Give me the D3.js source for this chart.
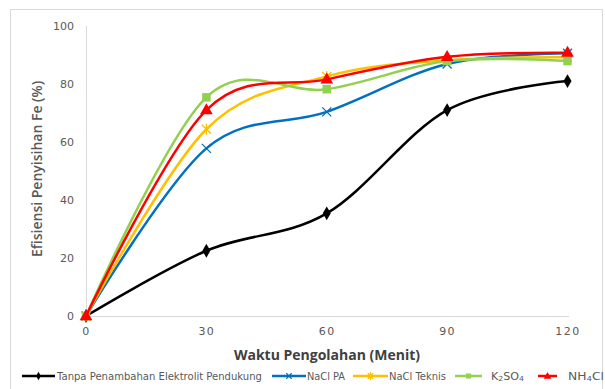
<!DOCTYPE html>
<html>
<head>
<meta charset="utf-8">
<script src="https://cdn.jsdelivr.net/npm/d3@7"></script>
<style>
  html, body { margin: 0; padding: 0; background: #fff; }
  svg { display: block; }
</style>
</head>
<body>
<svg id="chart" width="605" height="389"></svg>
<script>
// Processing time (minutes)
const times = [0, 30, 60, 90, 120];
const xTickLabels = ["0", "30", "60", "90", "120"];
const yTickValues = [0, 20, 40, 60, 80, 100];

// Fe removal efficiency (%) per supporting electrolyte
const tanpa   = [0, 22.5, 35.4, 71.0, 81.0];
const naclPA  = [0, 57.8, 70.4, 86.9, 90.6];
const naclTek = [0, 64.4, 82.6, 88.2, 89.2];
const k2so4   = [0, 75.4, 78.2, 87.9, 87.9];
const nh4cl   = [0, 71.0, 81.6, 89.4, 90.8];

const seriesNames = ["Tanpa Penambahan Elektrolit Pendukung", "NaCl PA", "NaCl Teknis", "K2SO4", "NH4Cl"];
const seriesValues = [tanpa, naclPA, naclTek, k2so4, nh4cl];
const seriesColors = ["#000000", "#0070C0", "#FFC000", "#92D050", "#FF0000"];
const seriesMarkers = ["diamond", "x", "star", "square", "triangle"];

const svg = d3.select("#chart");

// chart frame
svg.append("rect")
  .attr("x", 10.5).attr("y", 9.5).attr("width", 592).attr("height", 385)
  .attr("fill", "#fff").attr("stroke", "#d9d9d9").attr("stroke-width", 1);

const x = d3.scaleLinear().domain([0, 120]).range([86, 567.5]);
const y = d3.scaleLinear().domain([0, 100]).range([316, 26]);

// axis lines
svg.append("line")
  .attr("x1", x(0)).attr("x2", 569).attr("y1", y(0) + 0.5).attr("y2", y(0) + 0.5)
  .attr("stroke", "#d9d9d9").attr("stroke-width", 1);
svg.append("line")
  .attr("x1", x(0) + 0.5).attr("x2", x(0) + 0.5).attr("y1", y(100)).attr("y2", y(0))
  .attr("stroke", "#d9d9d9").attr("stroke-width", 1);

// y tick labels
const yAxis = d3.axisLeft(y).tickValues(yTickValues).tickSize(0).tickPadding(0);
const gy = svg.append("g").attr("transform", "translate(74,0)").call(yAxis);
gy.select(".domain").remove();
gy.selectAll("text")
  .attr("fill", "#595959")
  .style("font-family", "'DejaVu Sans', sans-serif")
  .style("font-size", "11px");

// x tick labels
const xAxis = d3.axisBottom(x).tickValues(times).tickFormat((d, i) => xTickLabels[i]).tickSize(0).tickPadding(0);
const gx = svg.append("g").attr("transform", "translate(0,327)").call(xAxis);
gx.select(".domain").remove();
gx.selectAll("text")
  .attr("fill", "#595959")
  .style("font-family", "'DejaVu Sans', sans-serif")
  .style("font-size", "11px")
  .style("letter-spacing", "1.5px");

// axis titles
svg.append("text")
  .attr("x", 327).attr("y", 360)
  .attr("text-anchor", "middle")
  .attr("fill", "#404040")
  .style("font-family", "'Open Sans', sans-serif")
  .style("font-size", "14px")
  .style("font-weight", "bold")
  .text("Waktu Pengolahan (Menit)");

svg.append("text")
  .attr("transform", "translate(42,169) rotate(-90)")
  .attr("text-anchor", "middle")
  .attr("fill", "#595959")
  .style("font-family", "'Open Sans', sans-serif")
  .style("font-size", "14px")
  .style("font-weight", "600")
  .text("Efisiensi Penyisihan Fe (%)");

// marker shapes
function drawMarker(g, type, cx, cy, color, s) {
  const k = s || 1;
  if (type === "diamond") {
    g.append("path")
      .attr("d", d3.symbol().type(d3.symbolDiamond).size(55 * k * k)())
      .attr("transform", `translate(${cx},${cy})`).attr("fill", color);
  } else if (type === "square") {
    g.append("path")
      .attr("d", d3.symbol().type(d3.symbolSquare).size(72 * k * k)())
      .attr("transform", `translate(${cx},${cy})`).attr("fill", color);
  } else if (type === "triangle") {
    g.append("path")
      .attr("d", d3.symbol().type(d3.symbolTriangle).size(70 * k * k)())
      .attr("transform", `translate(${cx},${cy + 0.5})`).attr("fill", color);
  } else if (type === "x") {
    const r = 4.5 * k;
    g.append("path")
      .attr("d", `M${cx - r},${cy - r}L${cx + r},${cy + r}M${cx - r},${cy + r}L${cx + r},${cy - r}`)
      .attr("stroke", color).attr("stroke-width", 1.3).attr("fill", "none");
  } else if (type === "star") {
    const r = 4.5 * k;
    g.append("path")
      .attr("d", `M${cx - r},${cy - r}L${cx + r},${cy + r}M${cx - r},${cy + r}L${cx + r},${cy - r}M${cx},${cy - r - 1}L${cx},${cy + r + 1}`)
      .attr("stroke", color).attr("stroke-width", 1.3).attr("fill", "none");
  }
}

// smoothed series lines with markers
const line = d3.line()
  .x((d, i) => x(times[i]))
  .y(d => y(d))
  .curve(d3.curveCardinal.tension(0));

seriesValues.forEach((vals, si) => {
  const g = svg.append("g");
  g.append("path")
    .datum(vals)
    .attr("d", line)
    .attr("fill", "none")
    .attr("stroke", seriesColors[si])
    .attr("stroke-width", 2.5)
    .attr("stroke-linejoin", "round");
  vals.forEach((v, i) => drawMarker(g, seriesMarkers[si], x(times[i]), y(v), seriesColors[si]));
});

// legend
const legend = svg.append("g");
const legendY = 376;
const legendItems = [
  { x1: 22, x2: 55, tx: 57 },
  { x1: 272, x2: 306, tx: 307 },
  { x1: 353, x2: 388, tx: 389 },
  { x1: 455, x2: 482, tx: 491 },
  { x1: 538, x2: 557, tx: 568 }
];
const legendWidths = [205, 38, 57, 33, 36];

seriesNames.forEach((name, i) => {
  const it = legendItems[i];
  legend.append("line")
    .attr("x1", it.x1).attr("x2", it.x2).attr("y1", legendY).attr("y2", legendY)
    .attr("stroke", seriesColors[i]).attr("stroke-width", 2.5);
  drawMarker(legend, seriesMarkers[i], (it.x1 + it.x2) / 2, legendY, seriesColors[i], 0.6);
  const t = legend.append("text")
    .attr("x", it.tx).attr("y", legendY + 4)
    .attr("fill", "#595959")
    .style("font-family", "'DejaVu Sans', sans-serif")
    .style("font-size", "10px");
  if (name === "K2SO4") {
    t.append("tspan").text("K");
    t.append("tspan").text("2").style("font-size", "7px").attr("dy", 1);
    t.append("tspan").text("SO").attr("dy", -1);
    t.append("tspan").text("4").style("font-size", "7px").attr("dy", 1);
  } else if (name === "NH4Cl") {
    t.append("tspan").text("NH");
    t.append("tspan").text("4").style("font-size", "7px").attr("dy", 1);
    t.append("tspan").text("Cl").attr("dy", -1);
  } else {
    t.text(name);
  }
  t.attr("textLength", legendWidths[i]).attr("lengthAdjust", "spacingAndGlyphs");
});
</script>
</body>
</html>
